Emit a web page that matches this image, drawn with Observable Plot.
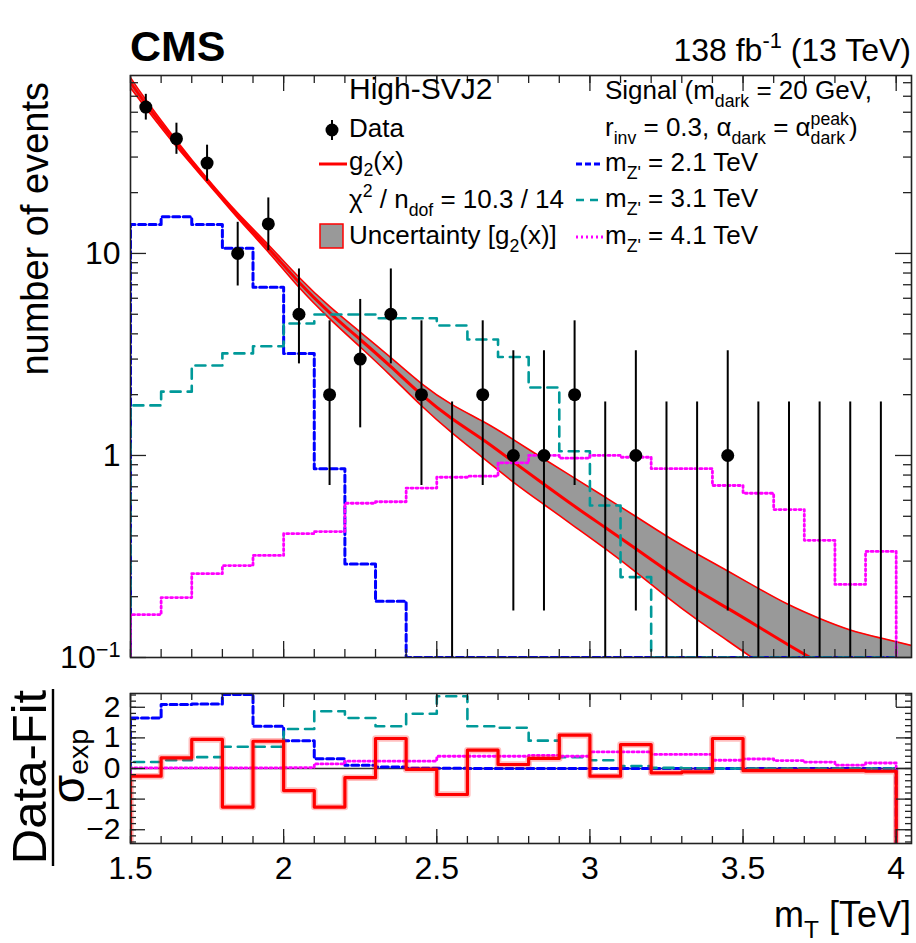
<!DOCTYPE html>
<html>
<head>
<meta charset="utf-8">
<script src="https://cdn.jsdelivr.net/npm/d3@7"></script>
<script src="https://cdn.jsdelivr.net/npm/@observablehq/plot@0.6"></script>
<style>
  body { margin: 0; background: #fff; }
  #wrap { position: relative; width: 916px; height: 943px; overflow: hidden; background: #fff; }
  #wrap > svg { position: absolute; left: 0; }
</style>
</head>
<body>
<div id="wrap"></div>
<script>
// ---------------- DATA ----------------
const binEdges = [1.5,1.6,1.7,1.8,1.9,2.0,2.1,2.2,2.3,2.4,2.5,2.6,2.7,2.8,2.9,3.0,3.1,3.2,3.3,3.4,3.5,3.6,3.7,3.8,3.9,4.0];
const dataCounts = [53,37,28,10,14,5,2,3,5,2,0,2,1,1,2,0,1,0,0,1,0,0,0,0,0];
const dataErrLow  = [45.74,30.95,22.74,6.90,10.31,2.84,0.71,1.37,2.84,0.71,0,0.71,0.17,0.17,0.71,0,0.17,0,0,0.17,0,0,0,0,0];
const dataErrHigh = [61.32,44.13,34.35,14.26,18.83,8.38,4.64,5.92,8.38,4.64,1.84,4.64,3.30,3.30,4.64,1.84,3.30,1.84,1.84,3.30,1.84,1.84,1.84,1.84,1.84];

const fitX = [1.5,1.55,1.65,1.75,1.85,1.95,2.05,2.15,2.25,2.35,2.45,2.55,2.65,2.75,2.85,2.95,3.05,3.15,3.25,3.35,3.45,3.55,3.65,3.75,3.85,3.95,4.05];
const fitY = [70,55,35,23,15.4,10.6,7.2,5.1,3.75,2.75,2.0,1.52,1.2,0.93,0.72,0.56,0.44,0.345,0.27,0.215,0.175,0.142,0.115,0.094,0.077,0.064,0.053];
// band half-widths in decades
const bandUp   = [0.025,0.02,0.015,0.01,0.012,0.018,0.025,0.03,0.037,0.045,0.055,0.07,0.09,0.11,0.125,0.14,0.15,0.16,0.17,0.18,0.185,0.19,0.2,0.22,0.25,0.29,0.335];
const bandDown = [0.025,0.02,0.015,0.01,0.012,0.018,0.025,0.03,0.037,0.045,0.055,0.07,0.09,0.10,0.10,0.10,0.105,0.115,0.13,0.145,0.16,0.175,0.185,0.195,0.2,0.21,0.22];

const sigMZ2p1 = [13.9,15.2,13.9,10.6,6.8,3.2,0.86,0.29,0.19,0,0,0,0,0,0,0,0,0,0,0,0,0,0,0,0];
const sigMZ3p1 = [1.77,2.07,2.79,3.2,3.47,4.5,4.99,4.99,4.78,4.78,4.4,3.75,3.07,2.17,1.05,0.565,0.25,0,0,0,0,0,0,0,0];
const sigMZ4p1 = [0.163,0.198,0.26,0.285,0.32,0.41,0.42,0.58,0.59,0.69,0.78,0.79,0.92,1.0,0.97,1.0,0.98,0.86,0.86,0.71,0.65,0.54,0.38,0.23,0.335];

const pullFit  = [-0.25,0.35,0.95,-1.26,0.89,-0.72,-1.26,-0.30,0.98,-0.03,-0.85,0.60,0.13,0.33,1.09,-0.25,0.78,-0.14,-0.11,0.98,-0.07,-0.07,-0.07,-0.07,-0.09];
const pull2p1  = [1.65,2.09,2.11,2.42,1.38,0.91,0.32,0.11,0.05,0.01,0.01,0,0,0,0,0,0,0,0,0,0,0,0,0,0];
const pull3p1  = [0.21,0.27,0.37,0.71,0.71,1.29,1.87,1.65,1.38,1.79,2.36,1.38,1.33,0.91,0.37,0.27,0.08,0.02,0.01,0,0,0,0,0,0];
const pull4p1  = [0.02,0.02,0.02,0.02,0.02,0.03,0.15,0.24,0.24,0.24,0.40,0.40,0.40,0.43,0.40,0.54,0.54,0.46,0.46,0.27,0.31,0.26,0.21,0.11,0.18];

const xMajorTicks = [1.5,2,2.5,3,3.5,4];
const yMainMajor = [0.1,1,10];
const yMainMinor = [0.2,0.3,0.4,0.5,0.6,0.7,0.8,0.9,2,3,4,5,6,7,8,9,20,30,40,50,60,70];
const yRatioMajor = [-2,-1,0,1,2];

// ---------------- LAYOUT ----------------
const FONT = '"Liberation Sans", Arial, Helvetica, sans-serif';
const W = 916, ML = 130, MR = 5;
const innerW = W - ML - MR;
const xDomain = [1.5, 4.05];
const yMainDomain = [0.1, 76];
const yRatioDomain = [-2.45, 2.45];
const mainH = 670, mainMT = 75, mainMB = 13, mainInnerH = mainH - mainMT - mainMB;
const ratH = 273, ratMT = 23, ratMB = 100, ratInnerH = ratH - ratMT - ratMB;

const BLUE = "#0000ff", CYAN = "#009999", MAG = "#ff00ff", RED = "#ff0000";
const DASH_B = "7,3.5", DASH_C = "10,7", DASH_M = "2,3";

const wrap = document.getElementById("wrap");
const centers = dataCounts.map((_, i) => (binEdges[i] + binEdges[i + 1]) / 2);
const xMinorTicks = binEdges.slice();

function stepPoints(values, floor) {
  const pts = [{x: binEdges[0], y: floor}];
  values.forEach((v, i) => pts.push({x: binEdges[i], y: Math.max(v, floor)}));
  pts.push({x: binEdges[binEdges.length - 1], y: Math.max(values[values.length - 1], floor)});
  pts.push({x: binEdges[binEdges.length - 1], y: floor});
  return pts;
}

function frameTicks(yMajor, yMinor, innerH, L) {
  const st = {stroke: "#222", strokeWidth: 1.3};
  return [
    Plot.tickX(xMinorTicks, {x: d => d, insetTop: innerH - L.xMin, ...st}),
    Plot.tickX(xMinorTicks, {x: d => d, insetBottom: innerH - L.xMin, ...st}),
    Plot.tickX(xMajorTicks, {x: d => d, insetTop: innerH - L.xMaj, ...st}),
    Plot.tickX(xMajorTicks, {x: d => d, insetBottom: innerH - L.xMaj, ...st}),
    Plot.tickY(yMinor, {y: d => d, insetRight: innerW - L.yMin, ...st}),
    Plot.tickY(yMinor, {y: d => d, insetLeft: innerW - L.yMin, ...st}),
    Plot.tickY(yMajor, {y: d => d, insetRight: innerW - L.yMaj, ...st}),
    Plot.tickY(yMajor, {y: d => d, insetLeft: innerW - L.yMaj, ...st})
  ];
}

// ---------------- MAIN PANEL ----------------
const fitRows = fitX.map((x, i) => ({x, fit: fitY[i], hi: fitY[i] * Math.pow(10, bandUp[i]), lo: fitY[i] / Math.pow(10, bandDown[i])}));
const dataRows = centers.map((x, i) => ({x, n: dataCounts[i], lo: Math.max(dataErrLow[i], 0.1), hi: dataErrHigh[i]}));
const ymin = yMainDomain[0];

const mainPlot = Plot.plot({
  width: W, height: mainH,
  marginLeft: ML, marginRight: MR, marginTop: mainMT, marginBottom: mainMB,
  x: {domain: xDomain, axis: null},
  y: {type: "log", domain: yMainDomain, axis: null},
  style: {fontFamily: FONT, fontSize: "32px", background: "transparent", color: "black", overflow: "visible"},
  marks: [
    Plot.areaY(fitRows, {x: "x", y1: "lo", y2: "hi", fill: "#999999", curve: "natural", clip: true}),
    Plot.line(fitRows, {x: "x", y: "lo", stroke: RED, strokeWidth: 1.6, curve: "natural", clip: true}),
    Plot.line(fitRows, {x: "x", y: "hi", stroke: RED, strokeWidth: 1.6, curve: "natural", clip: true}),
    Plot.line(fitRows, {x: "x", y: "fit", stroke: RED, strokeWidth: 3, curve: "natural", clip: true}),
    Plot.line(stepPoints(sigMZ2p1, ymin), {x: "x", y: "y", curve: "step-after", stroke: BLUE, strokeWidth: 3, strokeDasharray: DASH_B, clip: true}),
    Plot.line(stepPoints(sigMZ3p1, ymin), {x: "x", y: "y", curve: "step-after", stroke: CYAN, strokeWidth: 2.6, strokeDasharray: DASH_C, clip: true}),
    Plot.line(stepPoints(sigMZ4p1, ymin), {x: "x", y: "y", curve: "step-after", stroke: MAG, strokeWidth: 2.8, strokeDasharray: DASH_M, clip: true}),
    Plot.ruleX(dataRows, {x: "x", y1: "lo", y2: "hi", stroke: "black", strokeWidth: 2, clip: true}),
    Plot.dot(dataRows.filter(d => d.n > 0), {x: "x", y: "n", r: 6.5, fill: "black", stroke: "none"}),
    ...frameTicks(yMainMajor, yMainMinor, mainInnerH, {xMin: 8, xMaj: 16, yMin: 8, yMaj: 16}),
    Plot.frame({stroke: "#222", strokeWidth: 1.6}),
    Plot.axisY({ticks: yMainMajor, tickSize: 0, tickPadding: 10, tickFormat: d => String(d), label: null, anchor: "left"})
  ]
});
mainPlot.style.top = "0px";
wrap.appendChild(mainPlot);

// replace 0.1 by 10^-1
d3.select(mainPlot).selectAll("text").filter(function() { return this.textContent === "0.1"; }).each(function() {
  const t = d3.select(this);
  t.text(null);
  t.append("tspan").text("10");
  t.append("tspan").attr("dy", "-0.5em").attr("font-size", "0.68em").text("\u22121");
});

// ---------------- RATIO PANEL ----------------
const rmin = yRatioDomain[0];
const yRatioMinor = d3.range(-12, 13).map(k => k * 0.2);
const ratioPlot = Plot.plot({
  width: W, height: ratH,
  marginLeft: ML, marginRight: MR, marginTop: ratMT, marginBottom: ratMB,
  x: {domain: xDomain, axis: null},
  y: {domain: yRatioDomain, axis: null},
  style: {fontFamily: FONT, fontSize: "32px", background: "transparent", color: "black", overflow: "visible"},
  marks: [
    Plot.ruleY([0], {stroke: "#333", strokeWidth: 1.5}),
    Plot.line(stepPoints(pull2p1, rmin), {x: "x", y: "y", curve: "step-after", stroke: BLUE, strokeWidth: 3, strokeDasharray: DASH_B, clip: true}),
    Plot.line(stepPoints(pull3p1, rmin), {x: "x", y: "y", curve: "step-after", stroke: CYAN, strokeWidth: 2.6, strokeDasharray: DASH_C, clip: true}),
    Plot.line(stepPoints(pull4p1, rmin), {x: "x", y: "y", curve: "step-after", stroke: MAG, strokeWidth: 2.8, strokeDasharray: DASH_M, clip: true}),
    Plot.line(stepPoints(pullFit, rmin), {x: "x", y: "y", curve: "step-after", stroke: "rgba(255,0,0,0.25)", strokeWidth: 6.5, clip: true}),
    Plot.line(stepPoints(pullFit, rmin), {x: "x", y: "y", curve: "step-after", stroke: RED, strokeWidth: 3.2, clip: true}),
    ...frameTicks(yRatioMajor, yRatioMinor, ratInnerH, {xMin: 7, xMaj: 14, yMin: 6, yMaj: 15}),
    Plot.frame({stroke: "#222", strokeWidth: 1.6}),
    Plot.axisY({ticks: yRatioMajor, tickSize: 0, tickPadding: 10, fontSize: 30, tickFormat: d => d < 0 ? "\u2212" + Math.abs(d) : String(d), label: null, anchor: "left"}),
    Plot.axisX({ticks: xMajorTicks, tickSize: 0, tickPadding: 13, tickFormat: d => String(d), label: null, anchor: "bottom"})
  ]
});
ratioPlot.style.top = mainH + "px";
wrap.appendChild(ratioPlot);

// ---------------- TEXT / LEGEND OVERLAY ----------------
const overlay = d3.select(wrap).append("svg")
  .attr("width", W).attr("height", 943)
  .style("top", "0px").style("pointer-events", "none")
  .attr("font-family", FONT);

function rich(x, y, parts, o = {}) {
  const size = o.size || 26;
  const t = overlay.append("text").attr("x", x).attr("y", y)
    .attr("font-size", size).attr("text-anchor", o.anchor || "start")
    .attr("font-weight", o.weight || "normal").attr("fill", "black");
  if (o.rotate) t.attr("transform", `rotate(${o.rotate} ${x} ${y})`);
  const subOff = size * (o.sub || 0.3), supOff = -size * 0.42, small = size * (o.small || 0.68);
  let off = 0, extra = 0;
  for (const p of parts) {
    const [s, kind] = typeof p === "string" ? [p, null] : p;
    if (kind === "subsup") {
      const sup = t.append("tspan").attr("dy", supOff - off).attr("font-size", small).text(s[1]);
      if (extra) { sup.attr("dx", extra); extra = 0; }
      const wSup = sup.node().getComputedTextLength();
      const sub = t.append("tspan").attr("dx", -wSup).attr("dy", subOff - supOff).attr("font-size", small).text(s[0]);
      const wSub = sub.node().getComputedTextLength();
      extra = Math.max(0, wSup - wSub);
      off = subOff;
      continue;
    }
    const target = kind === "sub" ? subOff : kind === "sup" ? supOff : 0;
    const ts = t.append("tspan").attr("dy", target - off).text(s);
    if (extra) { ts.attr("dx", extra); extra = 0; }
    if (kind) ts.attr("font-size", small);
    off = target;
  }
  return t;
}

// header
rich(130, 61, ["CMS"], {size: 43, weight: "bold"});
rich(911, 61, ["138 fb", ["-1", "sup"], " (13 TeV)"], {size: 32, anchor: "end"});

// axis titles
rich(48, 82, ["number of events"], {size: 38, anchor: "end", rotate: -90});
rich(911, 927, ["m", ["T", "sub"], " [TeV]"], {size: 36, anchor: "end"});
rich(46, 777, ["Data-Fit"], {size: 49, anchor: "middle", rotate: -90});
overlay.append("line").attr("x1", 53).attr("x2", 53).attr("y1", 689).attr("y2", 866).attr("stroke", "black").attr("stroke-width", 2.4);
rich(84, 766, ["\u03c3", ["exp", "sub"]], {size: 46, anchor: "middle", rotate: -90, sub: 0.08, small: 0.62});

// legend left column
const LX = 349, RX = 605;
rich(LX, 99, ["High-SVJ2"], {size: 30});
rich(LX, 137, ["Data"], {size: 26});
rich(LX, 170, ["g", ["2", "sub"], "(x)"], {size: 26, sub: 0.24});
rich(LX, 208, ["\u03c7", ["2", "sup"], " / n", ["dof", "sub"], " = 10.3 / 14"], {size: 26});
rich(LX, 244, ["Uncertainty [g", ["2", "sub"], "(x)]"], {size: 26});

overlay.append("line").attr("x1", 332).attr("x2", 332).attr("y1", 120).attr("y2", 140).attr("stroke", "black").attr("stroke-width", 2);
overlay.append("circle").attr("cx", 332).attr("cy", 130).attr("r", 6.5).attr("fill", "black");
overlay.append("line").attr("x1", 319).attr("x2", 347).attr("y1", 164).attr("y2", 164).attr("stroke", RED).attr("stroke-width", 3);
overlay.append("rect").attr("x", 320).attr("y", 224).attr("width", 23).attr("height", 24).attr("fill", "#999999").attr("stroke", RED).attr("stroke-width", 1.5);

// legend right column
rich(RX, 99, ["Signal (m", ["dark", "sub"], " = 20 GeV,"], {size: 26});
rich(RX, 136, ["r", ["inv", "sub"], " = 0.3, \u03b1", ["dark", "sub"], " = \u03b1", [["dark", "peak"], "subsup"], ")"], {size: 26});
rich(RX, 171, ["m", ["Z'", "sub"], " = 2.1 TeV"], {size: 26});
rich(RX, 207, ["m", ["Z'", "sub"], " = 3.1 TeV"], {size: 26});
rich(RX, 244, ["m", ["Z'", "sub"], " = 4.1 TeV"], {size: 26});

overlay.append("line").attr("x1", 576).attr("x2", 603).attr("y1", 164).attr("y2", 164).attr("stroke", BLUE).attr("stroke-width", 3).attr("stroke-dasharray", "6,3");
overlay.append("line").attr("x1", 576).attr("x2", 603).attr("y1", 200).attr("y2", 200).attr("stroke", CYAN).attr("stroke-width", 2.6).attr("stroke-dasharray", "8,6");
overlay.append("line").attr("x1", 576).attr("x2", 603).attr("y1", 237).attr("y2", 237).attr("stroke", MAG).attr("stroke-width", 2.8).attr("stroke-dasharray", "2,3");
</script>
</body>
</html>
